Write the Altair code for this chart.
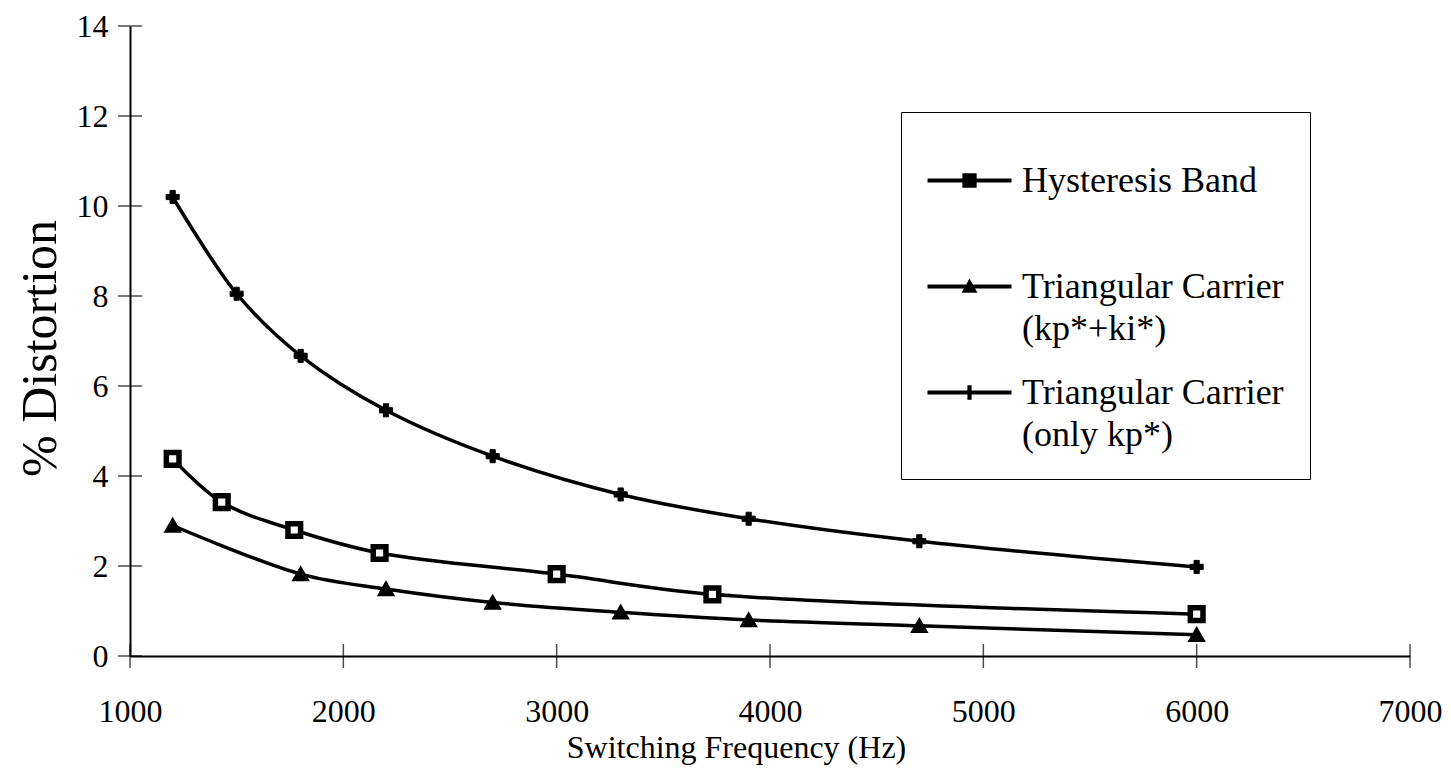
import altair as alt
import pandas as pd

# ---------------- data ----------------
series_names = [
    "Hysteresis Band",
    "Triangular Carrier (kp*+ki*)",
    "Triangular Carrier (only kp*)",
]
legend_lines = {
    "Hysteresis Band": ["Hysteresis Band", " "],
    "Triangular Carrier (kp*+ki*)": ["Triangular Carrier", "(kp*+ki*)"],
    "Triangular Carrier (only kp*)": ["Triangular Carrier", "(only kp*)"],
}

hyst_freq = [1200, 1430, 1770, 2170, 3000, 3730, 6000]
hyst_dist = [4.38, 3.42, 2.80, 2.29, 1.82, 1.37, 0.93]

tri_pi_freq = [1200, 1800, 2200, 2700, 3300, 3900, 4700, 6000]
tri_pi_dist = [2.90, 1.82, 1.49, 1.19, 0.97, 0.80, 0.67, 0.47]

tri_p_freq = [1200, 1500, 1800, 2200, 2700, 3300, 3900, 4700, 6000]
tri_p_dist = [10.20, 8.05, 6.67, 5.46, 4.44, 3.59, 3.05, 2.55, 1.98]

x_ticks = [1000, 2000, 3000, 4000, 5000, 6000, 7000]
y_ticks = [0, 2, 4, 6, 8, 10, 12, 14]

rows = []
for name, fs, ds in [
    (series_names[0], hyst_freq, hyst_dist),
    (series_names[1], tri_pi_freq, tri_pi_dist),
    (series_names[2], tri_p_freq, tri_p_dist),
]:
    for f, d in zip(fs, ds):
        rows.append({"series": name, "freq": f, "dist": d})
df = pd.DataFrame(rows)
xt_df = pd.DataFrame({"freq": x_ticks})
yt_df = pd.DataFrame({"dist": y_ticks})

FONT = "Liberation Serif"
xscale = alt.Scale(domain=[1000, 7000], nice=False, zero=False)
yscale = alt.Scale(domain=[0, 14], nice=False)

x_axis = alt.Axis(
    values=x_ticks,
    format="d",
    title="Switching Frequency (Hz)",
    titleX=606,
    titleY=101,
    titleBaseline="alphabetic",
    labelPadding=40,
    labelFlush=False,
    ticks=False,
    grid=False,
)
y_axis = alt.Axis(
    values=y_ticks,
    title="% Distortion",
    titleX=-90,
    titleY=322,
    titleAngle=270,
    titleAlign="center",
    titleBaseline="middle",
    titleFontSize=50,
    labelPadding=22,
    labelFlush=False,
    ticks=False,
    grid=False,
)
X = alt.X("freq:Q", scale=xscale, axis=x_axis)
Y = alt.Y("dist:Q", scale=yscale, axis=y_axis)

# legend symbol paths (line + marker), unit box [-1, 1]
sym_paths = [
    "M-1,-0.045H1V0.045H-1ZM-0.17,-0.17H0.17V0.17H-0.17Z",
    "M-1,-0.045H1V0.045H-1ZM0,-0.19L0.19,0.15H-0.19Z",
    "M-1,-0.045H1V0.045H-1ZM-0.05,-0.17H0.05V0.17H-0.05Z",
]
label_expr = " : ".join(
    f"datum.label === '{k}' ? {v!r}" for k, v in legend_lines.items()
) + " : datum.label"

legend = alt.Legend(
    title=None,
    orient="none",
    legendX=771,
    legendY=86,
    strokeColor="black",
    fillColor="white",
    padding=26,
    rowPadding=3,
    symbolSize=7056,
    symbolStrokeWidth=1,
    symbolFillColor="black",
    symbolStrokeColor="black",
    symbolOpacity=1,
    labelFont=FONT,
    labelFontSize=36,
    labelColor="black",
    labelLimit=500,
    labelOffset=10,
    labelExpr=label_expr,
)

base = alt.Chart(df)

lines = base.mark_line(interpolate="catmull-rom", strokeWidth=3.5, color="black").encode(
    x=X, y=Y, detail="series:N"
)

points = base.mark_point(opacity=1, stroke="black").encode(
    x=X,
    y=Y,
    shape=alt.Shape(
        "series:N",
        scale=alt.Scale(domain=series_names, range=["square", "triangle-up", "cross"]),
        legend=None,
    ),
    fill=alt.Fill(
        "series:N",
        scale=alt.Scale(domain=series_names, range=["white", "black", "black"]),
        legend=None,
    ),
    size=alt.Size(
        "series:N",
        scale=alt.Scale(domain=series_names, range=[160, 170, 230]),
        legend=None,
    ),
    strokeWidth=alt.StrokeWidth(
        "series:N",
        scale=alt.Scale(domain=series_names, range=[5.5, 1, 1]),
        legend=None,
    ),
)

# legend-only layer: no rows drawn, explicit domain drives the legend
legend_layer = (
    base.transform_filter("false")
    .mark_point(filled=True, color="black", opacity=1)
    .encode(
        x=X,
        y=Y,
        shape=alt.Shape(
            "series:N",
            scale=alt.Scale(domain=series_names, range=sym_paths),
            legend=legend,
        ),
    )
)

ytick_layer = alt.Chart(yt_df).mark_tick(
    color="black", thickness=1.5, size=24, orient="horizontal"
).encode(y=Y, x=alt.value(0))

xtick_layer = alt.Chart(xt_df).mark_tick(
    color="black", thickness=1.5, size=24, orient="vertical"
).encode(x=X, y=alt.value(630))

chart = (
    alt.layer(lines, points, legend_layer, ytick_layer, xtick_layer)
    .resolve_scale(shape="independent", size="independent")
    .resolve_legend(shape="independent")
    .properties(
        width=1280,
        height=630,
        padding={"left": 130, "top": 26, "right": 41, "bottom": 114},
        autosize="none",
        background="white",
    )
    .configure(style={"guide-label": {"lineHeight": 42}})
    .configure_view(stroke=None)
    .configure_axis(
        domainColor="black",
        domainWidth=2,
        labelFont=FONT,
        labelFontSize=32,
        labelColor="black",
        titleFont=FONT,
        titleFontSize=32,
        titleColor="black",
        titleFontWeight="normal",
    )
)

chart.save("out.html", embed_options={"renderer": "svg", "actions": False})
